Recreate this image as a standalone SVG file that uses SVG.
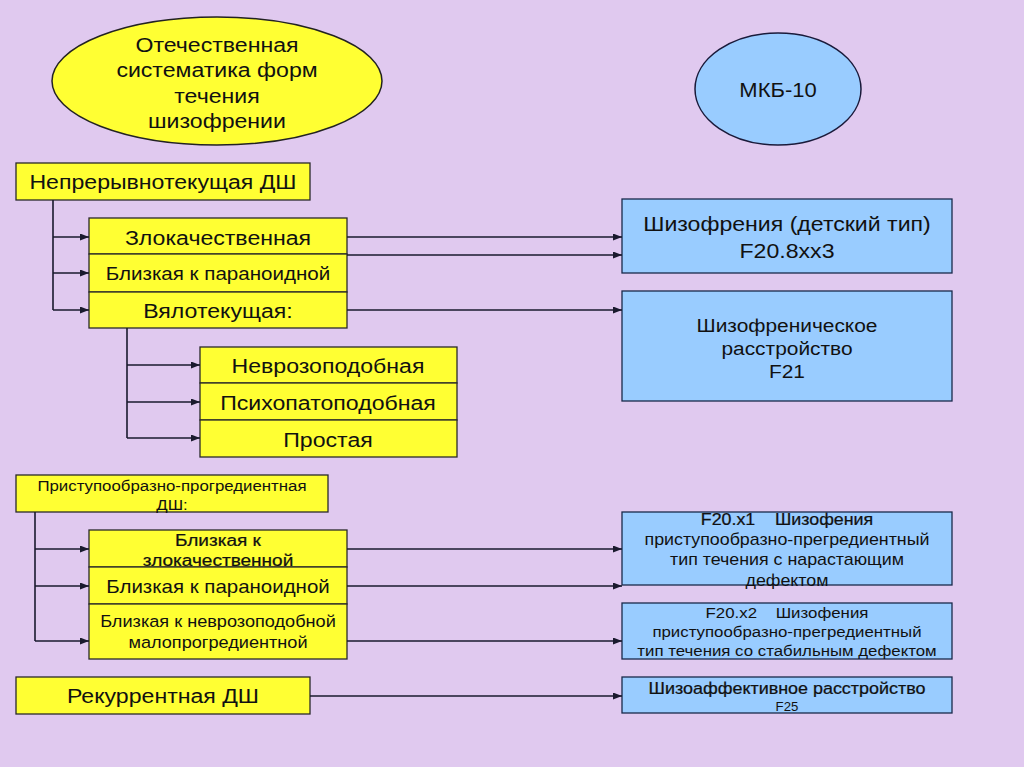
<svg xmlns="http://www.w3.org/2000/svg" width="1024" height="767" viewBox="0 0 1024 767">
<defs>
<marker id="ah" markerWidth="9" markerHeight="7" refX="9" refY="3.5" orient="auto" markerUnits="userSpaceOnUse">
<path d="M0,0 L9,3.5 L0,7 Z" fill="#1a1a2e"/>
</marker>
<style>
.y{fill:#FFFF33;stroke:#2a2a2a;stroke-width:1.3}
.b{fill:#99CCFF;stroke:#1a2a4a;stroke-width:1.3}
.t{font-family:"Liberation Sans",Arial,sans-serif;fill:#111;text-anchor:middle;white-space:pre;transform-box:fill-box;transform-origin:center;transform:scaleX(1.1)}
.bd{stroke:#111;stroke-width:0.25}
.c{fill:none;stroke:#1a1a2e;stroke-width:1.6}
.a{fill:none;stroke:#1a1a2e;stroke-width:1.6;marker-end:url(#ah)}
</style>
</defs>
<rect x="0" y="0" width="1024" height="767" fill="#E0C9EF"/>

<g id="n-otech">
<ellipse cx="217" cy="81" rx="165" ry="64" fill="#FFFF33" stroke="#222" stroke-width="1.5"/>
<text class="t" x="217" y="52" font-size="21">Отечественная</text>
<text class="t" x="217" y="77" font-size="21">систематика форм</text>
<text class="t" x="217" y="103" font-size="21">течения</text>
<text class="t" x="217" y="128" font-size="21">шизофрении</text>
</g>

<g id="n-mkb">
<ellipse cx="778" cy="89" rx="83" ry="56" fill="#99CCFF" stroke="#1a1a3a" stroke-width="1.5"/>
<text class="t" x="778" y="97" font-size="20">МКБ-10</text>
</g>

<g id="n-nepr">
<rect class="y" x="16" y="163" width="294" height="37"/>
<text class="t" x="163" y="189" font-size="21">Непрерывнотекущая ДШ</text>
</g>

<g id="n-group1">
<rect class="y" x="89" y="218" width="258" height="36"/>
<text class="t" x="218" y="245" font-size="21">Злокачественная</text>
<rect class="y" x="89" y="254" width="258" height="38"/>
<text class="t" x="218" y="280" font-size="18.7">Близкая к параноидной</text>
<rect class="y" x="89" y="292" width="258" height="36"/>
<text class="t" x="218" y="318" font-size="21">Вялотекущая:</text>
</g>

<g id="n-group2">
<rect class="y" x="200" y="347" width="257" height="36"/>
<text class="t" x="328" y="373" font-size="21">Неврозоподобная</text>
<rect class="y" x="200" y="383" width="257" height="37"/>
<text class="t" x="328" y="410" font-size="21">Психопатоподобная</text>
<rect class="y" x="200" y="420" width="257" height="37"/>
<text class="t" x="328" y="447" font-size="21">Простая</text>
</g>

<g id="n-f208">
<rect class="b" x="622" y="199" width="330" height="74"/>
<text class="t" x="787" y="231" font-size="21">Шизофрения (детский тип)</text>
<text class="t" x="787" y="258" font-size="21">F20.8xx3</text>
</g>

<g id="n-f21">
<rect class="b" x="622" y="291" width="330" height="110"/>
<text class="t" x="787" y="332" font-size="19">Шизофреническое</text>
<text class="t" x="787" y="355" font-size="19">расстройство</text>
<text class="t" x="787" y="378" font-size="19">F21</text>
</g>

<g id="n-prist">
<rect class="y" x="16" y="475" width="312" height="37"/>
<text class="t" x="172" y="491" font-size="15.3">Приступообразно-прогредиентная</text>
<text class="t" x="172" y="510" font-size="15.3">ДШ:</text>
</g>

<g id="n-group3">
<rect class="y" x="89" y="530" width="258" height="37"/>
<text class="t bd" x="218" y="546" font-size="17.3">Близкая к</text>
<text class="t bd" x="218" y="566" font-size="17.3">злокачественной</text>
<rect class="y" x="89" y="567" width="258" height="37"/>
<text class="t" x="218" y="593" font-size="18.6">Близкая к параноидной</text>
<rect class="y" x="89" y="604" width="258" height="55"/>
<text class="t" x="218" y="627" font-size="16.5">Близкая к неврозоподобной</text>
<text class="t" x="218" y="648" font-size="16.5">малопрогредиентной</text>
</g>

<g id="n-rekur">
<rect class="y" x="16" y="677" width="294" height="37"/>
<text class="t" x="163" y="703" font-size="21">Рекуррентная ДШ</text>
</g>

<g id="n-f20x1">
<rect class="b" x="622" y="512" width="330" height="73"/>
<text class="t bd" x="787" y="525" font-size="16.2">F20.x1    Шизофения</text>
<text class="t" x="787" y="545" font-size="16.2">приступообразно-прегредиентный</text>
<text class="t" x="787" y="565" font-size="16.2">тип течения с нарастающим</text>
<text class="t" x="787" y="586" font-size="16.2">дефектом</text>
</g>

<g id="n-f20x2">
<rect class="b" x="622" y="603" width="330" height="56"/>
<text class="t" x="787" y="618" font-size="15.3">F20.x2    Шизофения</text>
<text class="t" x="787" y="637" font-size="15.3">приступообразно-прегредиентный</text>
<text class="t" x="787" y="656" font-size="15.3">тип течения со стабильным дефектом</text>
</g>

<g id="n-f25">
<rect class="b" x="622" y="677" width="330" height="36"/>
<text class="t bd" x="787" y="694" font-size="16.3">Шизоаффективное расстройство</text>
<text class="t" x="787" y="711" font-size="12">F25</text>
</g>

<g id="connectors">
<path class="c" d="M53,200 V310"/>
<path class="a" d="M53,237 H89"/>
<path class="a" d="M53,273 H89"/>
<path class="a" d="M53,310 H89"/>
<path class="c" d="M127,328 V438"/>
<path class="a" d="M127,365 H200"/>
<path class="a" d="M127,402 H200"/>
<path class="a" d="M127,438 H200"/>
<path class="a" d="M347,237 H622"/>
<path class="a" d="M347,255 H622"/>
<path class="a" d="M347,310 H622"/>
<path class="c" d="M35,512 V641"/>
<path class="a" d="M35,549 H89"/>
<path class="a" d="M35,586 H89"/>
<path class="a" d="M35,641 H89"/>
<path class="a" d="M347,549 H622"/>
<path class="a" d="M347,586 H622"/>
<path class="a" d="M347,641 H622"/>
<path class="a" d="M310,696 H622"/>
</g>
</svg>
